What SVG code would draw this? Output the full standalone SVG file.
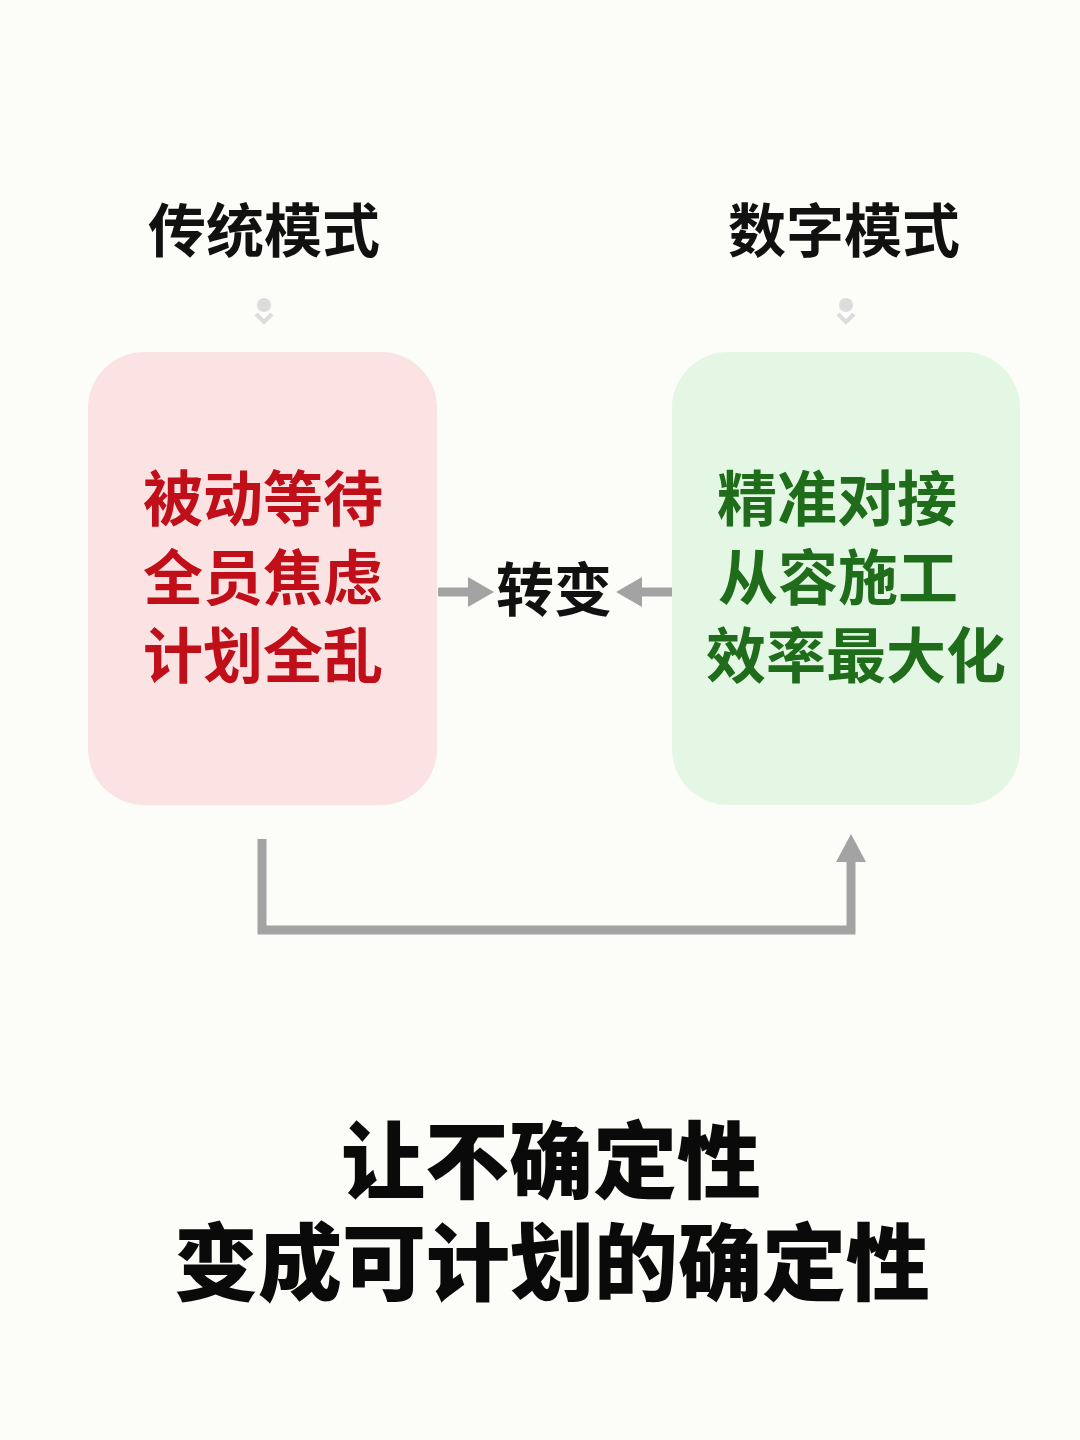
<svg xmlns="http://www.w3.org/2000/svg" width="1080" height="1440" viewBox="0 0 1080 1440">
  <defs>
    <style>
      .t { font-family: "Noto Sans CJK SC", "Noto Sans", sans-serif; font-weight: 700; }
      .hdr { font-size: 58px; fill: #111111; }
      .red { font-size: 60px; fill: #c10f1a; }
      .grn { font-size: 60px; fill: #1f6d1a; }
      .big { font-size: 84px; fill: #0a0a0a; font-weight: 900; }
      .conn { stroke: #a3a3a3; fill: none; }
      .head { fill: #a3a3a3; }
      .ico { fill: #dcdcdc; }
    </style>
  </defs>
  <rect x="0" y="0" width="1080" height="1440" fill="#fcfcf9"/>

  <g id="header-traditional">
    <text class="t hdr" x="148" y="252">传统模式</text>
    <circle class="ico" cx="264" cy="305" r="7"/>
    <path d="M256 314 L264 322 L272 314" stroke="#dcdcdc" stroke-width="4" fill="none"/>
  </g>
  <g id="header-digital">
    <text class="t hdr" x="728" y="252">数字模式</text>
    <circle class="ico" cx="846" cy="305" r="7"/>
    <path d="M838 314 L846 322 L854 314" stroke="#dcdcdc" stroke-width="4" fill="none"/>
  </g>

  <g id="node-traditional">
    <rect x="88" y="352" width="349" height="453" rx="56" fill="#fce3e3"/>
    <text class="t red" x="143" y="521">被动等待</text>
    <text class="t red" x="143" y="600">全员焦虑</text>
    <text class="t red" x="143" y="678">计划全乱</text>
  </g>

  <g id="node-digital">
    <rect x="672" y="352" width="348" height="453" rx="56" fill="#e4f7e4"/>
    <text class="t grn" x="717" y="521">精准对接</text>
    <text class="t grn" x="718" y="600">从容施工</text>
    <text class="t grn" x="706" y="678">效率最大化</text>
  </g>

  <g id="node-change">
    <text class="t hdr" x="496" y="611">转变</text>
  </g>

  <g id="connectors">
    <line class="conn" x1="438" y1="592" x2="472" y2="592" stroke-width="9"/>
    <polygon class="head" points="494,592 468,577 468,607"/>
    <line class="conn" x1="672" y1="592" x2="638" y2="592" stroke-width="9"/>
    <polygon class="head" points="616,592 642,577 642,607"/>
    <path class="conn" d="M262 839 L262 930 L851 930 L851 858" stroke-width="9"/>
    <polygon class="head" points="851,834 836,862 866,862"/>
  </g>

  <g id="conclusion">
    <text class="t big" x="341" y="1192">让不确定性</text>
    <text class="t big" x="174" y="1294">变成可计划的确定性</text>
  </g>
</svg>
